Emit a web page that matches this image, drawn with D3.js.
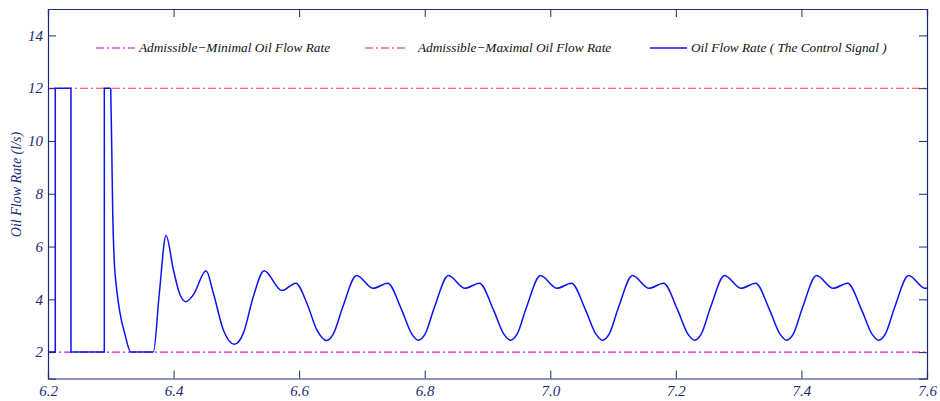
<!DOCTYPE html>
<html>
<head>
<meta charset="utf-8">
<script src="https://cdn.jsdelivr.net/npm/d3@7"></script>
<style>
  html, body { margin: 0; padding: 0; background: #fff; }
  svg { display: block; }
  svg text { font-family: "Liberation Serif", Tinos, "Times New Roman", serif; font-style: italic; }
</style>
</head>
<body>
<svg id="chart" width="940" height="401"></svg>
<script>
// Admissible bounds of the oil flow rate (l/s)
const minFlow = 2;
const maxFlow = 12;

// Bang-bang start of the control signal (time s, flow l/s)
const pulseTime = [6.2000, 6.2116, 6.2116, 6.2366, 6.2366, 6.2897, 6.2897, 6.2999];
const pulseFlow = [2, 2, 12, 12, 2, 2, 12, 12];

// Continuous part of the control signal: decay, saturation at the minimum, then oscillation
const responseTime = [
  6.2999, 6.3015, 6.3031, 6.3052, 6.3095, 6.3147, 6.3227, 6.3318,
  6.3678, 6.3773, 6.3880, 6.3997, 6.4103, 6.4194,
  6.4315, 6.4518, 6.4634, 6.4793,
  6.4969, 6.5112, 6.5271, 6.5442, 6.5724, 6.5947, 6.6122, 6.6282,
  6.6438, 6.6543, 6.6693, 6.6916, 6.7179, 6.7410, 6.7633, 6.7795,
  6.7900, 6.8005, 6.8155, 6.8378, 6.8641, 6.8872, 6.9095, 6.9261,
  6.9366, 6.9471, 6.9621, 6.9844, 7.0107, 7.0338, 7.0561, 7.0727,
  7.0832, 7.0937, 7.1087, 7.1310, 7.1573, 7.1804, 7.2027, 7.2193,
  7.2298, 7.2403, 7.2553, 7.2776, 7.3039, 7.3270, 7.3493, 7.3659,
  7.3764, 7.3869, 7.4019, 7.4242, 7.4505, 7.4736, 7.4959, 7.5125,
  7.5230, 7.5335, 7.5485, 7.5708, 7.5971, 7.6000
];
const responseFlow = [
  12.00, 9.79, 7.27, 5.62, 4.36, 3.48, 2.66, 2.00,
  2.00, 4.23, 6.42, 5.12, 4.17, 3.91,
  4.17, 5.08, 4.23, 2.84,
  2.30, 2.72, 4.11, 5.08, 4.33, 4.61, 3.86, 2.84,
  2.44, 2.68, 3.70, 4.90, 4.42, 4.61, 3.60, 2.68,
  2.45, 2.68, 3.70, 4.90, 4.42, 4.61, 3.60, 2.68,
  2.45, 2.68, 3.70, 4.90, 4.42, 4.61, 3.60, 2.68,
  2.45, 2.68, 3.70, 4.90, 4.42, 4.61, 3.60, 2.68,
  2.45, 2.68, 3.70, 4.90, 4.42, 4.61, 3.60, 2.68,
  2.45, 2.68, 3.70, 4.90, 4.42, 4.61, 3.60, 2.68,
  2.45, 2.68, 3.70, 4.90, 4.42, 4.43
];

// Axis ticks
const xTicks = [6.2, 6.4, 6.6, 6.8, 7.0, 7.2, 7.4, 7.6];
const yTicks = [2, 4, 6, 8, 10, 12, 14];

// Legend entries
const legendLabels = [
  "Admissible\u2212Minimal Oil Flow Rate",
  "Admissible\u2212Maximal Oil Flow Rate",
  "Oil Flow Rate ( The Control Signal )"
];

const W = 940, H = 401;
const margin = { left: 48, right: 13, top: 9, bottom: 22.5 };
const serif = '"Liberation Serif", Tinos, "Times New Roman", serif';
const axisColor = "#1c2a78";
const minColor = "#d21ed2";
const maxColor = "#f23c3c";
const flowColor = "#0a14f0";
const dashDot = "8,3,2,3";

const svg = d3.select("#chart");

const x = d3.scaleLinear().domain([6.2, 7.6]).range([margin.left, W - margin.right]);
const y = d3.scaleLinear().domain([1, 15]).range([H - margin.bottom, margin.top]);

const plot = svg.append("g");

// Admissible bounds
plot.append("line")
  .attr("x1", x(6.2)).attr("x2", x(7.6))
  .attr("y1", y(minFlow)).attr("y2", y(minFlow))
  .attr("stroke", minColor).attr("stroke-width", 1.1)
  .attr("stroke-dasharray", dashDot);
plot.append("line")
  .attr("x1", x(6.2)).attr("x2", x(7.6))
  .attr("y1", y(maxFlow)).attr("y2", y(maxFlow))
  .attr("stroke", maxColor).attr("stroke-width", 1.1)
  .attr("stroke-dasharray", dashDot);

// Control signal
const pulsePts = pulseTime.map((t, i) => [t, pulseFlow[i]]);
const respPts = responseTime.map((t, i) => [t, responseFlow[i]]);

plot.append("path")
  .attr("d", d3.line().x(d => x(d[0])).y(d => y(d[1])).curve(d3.curveLinear)(pulsePts))
  .attr("fill", "none").attr("stroke", flowColor).attr("stroke-width", 1.5);
plot.append("path")
  .attr("d", d3.line().x(d => x(d[0])).y(d => y(d[1])).curve(d3.curveMonotoneX)(respPts))
  .attr("fill", "none").attr("stroke", flowColor).attr("stroke-width", 1.5)
  .attr("stroke-linejoin", "round");

// Axes: box with inward ticks on all four sides
const tickLen = 8;
const xAxisB = d3.axisBottom(x).tickValues(xTicks).tickSize(-tickLen).tickFormat(d3.format(".1f")).tickPadding(7);
const xAxisT = d3.axisTop(x).tickValues(xTicks).tickSize(-tickLen).tickFormat("");
const yAxisL = d3.axisLeft(y).tickValues(yTicks).tickSize(-tickLen).tickFormat(d3.format("d")).tickPadding(5);
const yAxisR = d3.axisRight(y).tickValues(yTicks).tickSize(-tickLen).tickFormat("");

function style(g) {
  g.attr("font-family", null).attr("font-size", null);
  g.select(".domain").attr("stroke", axisColor).attr("stroke-width", 1.2);
  g.selectAll(".tick line").attr("stroke", axisColor).attr("stroke-width", 1);
  g.selectAll(".tick text")
    .attr("fill", axisColor)
    .style("font-family", serif)
    .style("font-style", "italic")
    .style("font-size", "15px");
}

svg.append("g").attr("transform", `translate(0,${y(1)})`).call(xAxisB).call(style);
svg.append("g").attr("transform", `translate(0,${y(15)})`).call(xAxisT).call(style);
svg.append("g").attr("transform", `translate(${x(6.2)},0)`).call(yAxisL).call(style);
svg.append("g").attr("transform", `translate(${x(7.6)},0)`).call(yAxisR).call(style);

// Y axis title
svg.append("text")
  .attr("transform", `translate(21,${y(8.35)}) rotate(-90)`)
  .attr("text-anchor", "middle")
  .attr("fill", axisColor)
  .style("font-family", serif)
  .style("font-size", "14px")
  .text("Oil Flow Rate (l/s)");

// Legend
const legendY = 48;
const legendItems = [
  { label: legendLabels[0], color: minColor, dash: dashDot, x0: 96, x1: 135, tx: 139 },
  { label: legendLabels[1], color: maxColor, dash: dashDot, x0: 365, x1: 405, tx: 418 },
  { label: legendLabels[2], color: flowColor, dash: null, x0: 650, x1: 687, tx: 691 }
];
const lg = svg.append("g");
legendItems.forEach(it => {
  lg.append("line")
    .attr("x1", it.x0).attr("x2", it.x1)
    .attr("y1", legendY).attr("y2", legendY)
    .attr("stroke", it.color).attr("stroke-width", 1.3)
    .attr("stroke-dasharray", it.dash)
    .attr("opacity", it.dash ? 0.75 : 1);
  lg.append("text")
    .attr("x", it.tx).attr("y", legendY + 4)
    .attr("fill", "#111")
    .style("font-family", serif)
    .style("font-size", "13.3px")
    .text(it.label);
});
</script>
</body>
</html>
